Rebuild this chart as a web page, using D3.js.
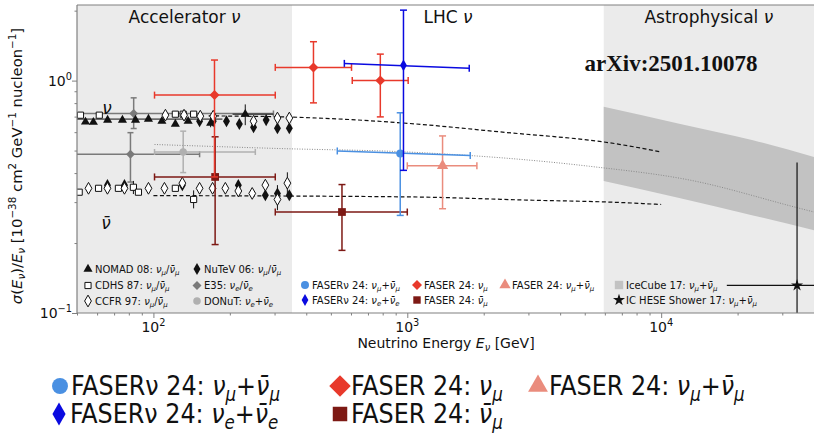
<!DOCTYPE html>
<html>
<head>
<meta charset="utf-8">
<script src="https://cdn.jsdelivr.net/npm/d3@7"></script>
<style>
  body { margin: 0; background: #fff; }
  text { font-family: "DejaVu Sans", sans-serif; fill: #111; }
  .cond text { font-family: "DejaVu Sans Condensed", "DejaVu Sans", sans-serif; font-stretch: condensed; }
</style>
</head>
<body>
<script>
// energies in GeV, sigma/E in 1e-38 cm^2 GeV^-1 nucleon^-1
const regionEdges = [50, 352, 5940, 40000];
const regionNames = ["Accelerator *ν*", "LHC *ν*", "Astrophysical *ν*"];
const regionFills = ["#ebebeb", "#ffffff", "#ebebeb"];

// theory curves
const nuLineE = [165, 343, 1000, 2300, 6840, 10000];
const nuLineV = [0.705, 0.697, 0.655, 0.602, 0.532, 0.493];
const nubarLineE = [100, 1000, 3000, 6840, 10000];
const nubarLineV = [0.320, 0.316, 0.306, 0.299, 0.293];
const avgLineE = [101, 317, 1000, 5210, 13000, 34300, 40000];
const avgLineV = [0.531, 0.510, 0.493, 0.428, 0.373, 0.284, 0.272];

// IceCube 17 band
const iceE = [5940, 11900, 23000, 40000];
const iceLo = [0.370, 0.312, 0.263, 0.227];
const iceHi = [0.771, 0.651, 0.554, 0.469];

// accelerator data
const nomad = [
  {e: 54, v: 0.664}, {e: 58, v: 0.662}, {e: 66, v: 0.676}, {e: 75.5, v: 0.676},
  {e: 85, v: 0.676}, {e: 95.6, v: 0.683, eLo: 30, eHi: 187}, {e: 108, v: 0.669},
  {e: 122, v: 0.650}, {e: 137, v: 0.669}, {e: 168, v: 0.656, vLo: 0.63, vHi: 0.69},
  {e: 230, v: 0.717, eLo: 205, eHi: 297, vLo: 0.643, vHi: 0.79}
];
const cdhsNu = [{e: 51.6, v: 0.710}, {e: 61.2, v: 0.710}, {e: 122, v: 0.717}, {e: 131, v: 0.717}, {e: 144, v: 0.717}];
const cdhsNubar = [
  {e: 51, v: 0.331}, {e: 60.8, v: 0.344}, {e: 72.8, v: 0.344}, {e: 83.4, v: 0.3475, vLo: 0.325, vHi: 0.37},
  {e: 87.3, v: 0.331}, {e: 122, v: 0.344}, {e: 144, v: 0.308, vLo: 0.282, vHi: 0.337}
];
const ccfrNu = [{e: 111.5, v: 0.710}, {e: 132, v: 0.710}, {e: 153, v: 0.703}, {e: 172, v: 0.703}, {e: 248, v: 0.669}, {e: 308, v: 0.690}, {e: 343, v: 0.690}];
const ccfrNubar = [
  {e: 55.5, v: 0.344}, {e: 65.9, v: 0.344}, {e: 76.9, v: 0.344}, {e: 95.6, v: 0.344}, {e: 110.5, v: 0.344},
  {e: 130, v: 0.362}, {e: 152, v: 0.344}, {e: 171, v: 0.344}, {e: 192, v: 0.344}, {e: 216, v: 0.335},
  {e: 245, v: 0.327}, {e: 276, v: 0.355}, {e: 308, v: 0.308, vLo: 0.277, vHi: 0.355},
  {e: 337, v: 0.362, vLo: 0.321, vHi: 0.403}
];
const nutevNu = [
  {e: 152, v: 0.669}, {e: 172, v: 0.669}, {e: 194, v: 0.669}, {e: 218, v: 0.650}, {e: 248, v: 0.630},
  {e: 278, v: 0.676}, {e: 308, v: 0.624, vLo: 0.60, vHi: 0.65}, {e: 343, v: 0.624, vLo: 0.60, vHi: 0.65}
];
const nutevNubar = [{e: 65.9, v: 0.355}, {e: 76.9, v: 0.355}, {e: 130, v: 0.355}, {e: 216, v: 0.355}, {e: 276, v: 0.321}, {e: 308, v: 0.327}, {e: 343, v: 0.321}];
const e35 = [
  {e: 83.6, v: 0.722, vLo: 0.622, vHi: 0.843, eLo: 20, eHi: 297},
  {e: 81.2, v: 0.482, vLo: 0.366, vHi: 0.597, eLo: 20, eHi: 152}
];
const donut = [{e: 131, v: 0.493, vLo: 0.402, vHi: 0.606, eLo: 101, eHi: 252}];

// LHC data (FASER)
const fasernuMu = [{e: 938, v: 0.486, vLo: 0.263, vHi: 0.727, eLo: 530, eHi: 1770, vL: 0.498, vR: 0.476}];
const fasernuE = [{e: 966, v: 1.163, vLo: 0.411, vHi: 2.01, eLo: 565, eHi: 1754, vL: 1.186, vR: 1.129}];
const faserNuMu = [
  {e: 174, v: 0.866, vLo: 0.385, vHi: 1.226, eLo: 101, eHi: 302},
  {e: 427, v: 1.14, vLo: 0.802, vHi: 1.47, eLo: 302, eHi: 603},
  {e: 783, v: 1.0, vLo: 0.698, vHi: 1.30, eLo: 607, eHi: 1008}
];
const faserSum = [{e: 1377, v: 0.430, vLo: 0.281, vHi: 0.578, eLo: 1000, eHi: 1880}];
const faserNubar = [
  {e: 175, v: 0.385, vLo: 0.197, vHi: 0.573, eLo: 101, eHi: 302},
  {e: 553, v: 0.272, vLo: 0.186, vHi: 0.357, eLo: 302, eHi: 1000}
];

// astrophysical
const icHese = [{e: 34300, v: 0.1314, vLo: 0.05, vHi: 0.444, eLo: 18140, eHi: 100000}];

const W = 814, H = 436;
const pL = 77, pR = 814, pT = 5, pB = 313;

const x = d3.scaleLog().domain([50, 40000]).range([pL, pR]);
const y = d3.scaleLog().domain([0.1, 2.115]).range([pB, pT]);

const svg = d3.select("body").append("svg").attr("width", W).attr("height", H);

// text with *italic*, _sub and ^{sup}
function rich(sel, str, fs) {
  let italic = false, cur = 0, buf = "";
  const chars = Array.from(str);
  const push = function(t, shift, small, it) {
    if (!t) return;
    const ts = sel.append("tspan").text(t).attr("dy", shift - cur);
    cur = shift;
    if (small) ts.attr("font-size", fs * 0.7);
    if (it) ts.attr("font-style", "italic");
  };
  for (let k = 0; k < chars.length; k++) {
    const c = chars[k];
    if (c === "*") { push(buf, 0, false, italic); buf = ""; italic = !italic; }
    else if (c === "_" || c === "^") {
      push(buf, 0, false, italic); buf = "";
      let content = "";
      if (chars[k + 1] === "{") { k += 2; while (chars[k] !== "}") content += chars[k++]; }
      else content = chars[++k];
      push(content, c === "_" ? fs * 0.22 : -fs * 0.4, true, c === "_");
    } else buf += c;
  }
  push(buf, 0, false, italic);
  sel.attr("font-size", fs);
}

svg.append("defs").append("clipPath").attr("id", "clip")
  .append("rect").attr("x", pL).attr("y", pT).attr("width", pR - pL).attr("height", pB - pT);
const plot = svg.append("g").attr("clip-path", "url(#clip)");

// regions
plot.selectAll("rect.region").data(regionNames).enter().append("rect")
  .attr("class", "region")
  .attr("x", (d, i) => x(regionEdges[i]))
  .attr("y", pT)
  .attr("width", (d, i) => x(regionEdges[i + 1]) - x(regionEdges[i]))
  .attr("height", pB - pT)
  .attr("fill", (d, i) => regionFills[i]);

// IceCube band
plot.append("path")
  .attr("d", d3.area().x((d, i) => x(iceE[i])).y0((d, i) => y(iceLo[i])).y1((d, i) => y(iceHi[i])).curve(d3.curveMonotoneX)(iceE))
  .attr("fill", "#c2c2c2");

// theory lines
const lineOf = (es, vs) => d3.line().x((d, i) => x(es[i])).y((d, i) => y(vs[i])).curve(d3.curveMonotoneX)(es);
plot.append("path").attr("d", lineOf(avgLineE, avgLineV)).attr("fill", "none")
  .attr("stroke", "#8a8a8a").attr("stroke-width", 1).attr("stroke-dasharray", "1,1.5");
plot.append("path").attr("d", lineOf(nuLineE, nuLineV)).attr("fill", "none")
  .attr("stroke", "#111").attr("stroke-width", 1.2).attr("stroke-dasharray", "4,2.5");
plot.append("path").attr("d", lineOf(nubarLineE, nubarLineV)).attr("fill", "none")
  .attr("stroke", "#111").attr("stroke-width", 1.2).attr("stroke-dasharray", "4,2.5");

function errorBars(g, data, color, width, cap) {
  data.forEach(function(d) {
    const px = x(d.e);
    if (d.vLo != null) {
      g.append("line").attr("x1", px).attr("x2", px).attr("y1", y(d.vLo)).attr("y2", y(d.vHi))
        .attr("stroke", color).attr("stroke-width", width);
      if (cap) [d.vLo, d.vHi].forEach(v => g.append("line")
        .attr("x1", px - cap).attr("x2", px + cap).attr("y1", y(v)).attr("y2", y(v))
        .attr("stroke", color).attr("stroke-width", width));
    }
    if (d.eLo != null) {
      const yl = y(d.vL != null ? d.vL : d.v), yr = y(d.vR != null ? d.vR : d.v);
      g.append("line").attr("x1", x(d.eLo)).attr("x2", x(d.eHi)).attr("y1", yl).attr("y2", yr)
        .attr("stroke", color).attr("stroke-width", width);
      if (cap) [[d.eLo, yl], [d.eHi, yr]].forEach(p => g.append("line")
        .attr("x1", x(p[0])).attr("x2", x(p[0])).attr("y1", p[1] - cap).attr("y2", p[1] + cap)
        .attr("stroke", color).attr("stroke-width", width));
    }
  });
}

function markers(g, data, type, size, fill, stroke, rot) {
  g.selectAll(null).data(data).enter().append("path")
    .attr("d", d3.symbol().type(type).size(size))
    .attr("transform", d => `translate(${x(d.e)},${y(d.v)}) rotate(${rot || 0})`)
    .attr("fill", fill).attr("stroke", stroke || "none").attr("stroke-width", 1);
}

// gray accelerator data
errorBars(plot, e35, "#7a7a7a", 1.5, 3);
markers(plot, e35, d3.symbolSquare, 40, "#7a7a7a", null, 45);
errorBars(plot, donut, "#b0b0b0", 1.5, 3);
markers(plot, donut, d3.symbolCircle, 45, "#b0b0b0");

// black accelerator data
[nomad, cdhsNu, cdhsNubar, ccfrNu, ccfrNubar, nutevNu, nutevNubar].forEach(s => errorBars(plot, s, "#111", 1, 0));
markers(plot, cdhsNu, d3.symbolSquare, 38, "#fff", "#111");
markers(plot, cdhsNubar, d3.symbolSquare, 38, "#fff", "#111");
markers(plot, nutevNu, d3.symbolDiamond, 42, "#111");
markers(plot, nutevNubar, d3.symbolDiamond, 42, "#111");
markers(plot, ccfrNu, d3.symbolDiamond, 40, "#fff", "#111");
markers(plot, ccfrNubar, d3.symbolDiamond, 40, "#fff", "#111");
markers(plot, nomad, d3.symbolTriangle, 36, "#111");

// FASER data
const cRed = "#e8392b", cDark = "#7d1914", cSalmon = "#ea8c7d", cLight = "#4a90e2", cBlue = "#0a0ae0";
errorBars(plot, faserNubar, cDark, 1.5, 3.5);
markers(plot, faserNubar, d3.symbolSquare, 60, cDark);
errorBars(plot, faserNuMu, cRed, 1.5, 3.5);
markers(plot, faserNuMu, d3.symbolSquare, 50, cRed, null, 45);
errorBars(plot, faserSum, cSalmon, 1.5, 3.5);
markers(plot, faserSum, d3.symbolTriangle, 55, cSalmon);
errorBars(plot, fasernuMu, cLight, 1.5, 3.5);
markers(plot, fasernuMu, d3.symbolCircle, 50, cLight);
errorBars(plot, fasernuE, cBlue, 1.5, 3.5);
markers(plot, fasernuE, d3.symbolDiamond, 40, cBlue);

// IC HESE
errorBars(plot, icHese, "#111", 1.2, 0);
markers(plot, icHese, d3.symbolStar, 45, "#111");

// region titles
plot.selectAll("text.region").data(regionNames).enter().append("text")
  .attr("class", "region")
  .attr("x", (d, i) => (x(regionEdges[i]) + x(regionEdges[i + 1])) / 2)
  .attr("y", 23).attr("text-anchor", "middle")
  .each(function(d) { rich(d3.select(this), d, 17); });

// nu / nubar annotations
plot.append("text").attr("x", x(65.7)).attr("y", y(0.771) + 7).attr("text-anchor", "middle")
  .attr("font-size", 17).attr("font-style", "italic").text("ν");
plot.append("text").attr("x", x(65)).attr("y", y(0.246) + 7).attr("text-anchor", "middle")
  .attr("font-size", 17).attr("font-style", "italic").text("ν̄");

svg.append("text").attr("x", 671).attr("y", 71).attr("text-anchor", "middle")
  .style("font-family", "'Liberation Serif', serif").attr("font-weight", "bold")
  .attr("font-size", 23).text("arXiv:2501.10078");

// in-plot legend
const legInside = [
  {label: "NOMAD 08: *ν*_μ/*ν̄*_μ", lx: 88, ly: 269, type: d3.symbolTriangle, size: 36, fill: "#111"},
  {label: "CDHS 87: *ν*_μ/*ν̄*_μ", lx: 88, ly: 285.5, type: d3.symbolSquare, size: 38, fill: "#fff", stroke: "#111"},
  {label: "CCFR 97: *ν*_μ/*ν̄*_μ", lx: 88, ly: 301, type: d3.symbolDiamond, size: 40, fill: "#fff", stroke: "#111"},
  {label: "NuTeV 06: *ν*_μ/*ν̄*_μ", lx: 197, ly: 269, type: d3.symbolDiamond, size: 42, fill: "#111"},
  {label: "E35: *ν*_e/*ν̄*_e", lx: 197, ly: 285.5, type: d3.symbolSquare, size: 40, fill: "#7a7a7a", rot: 45},
  {label: "DONuT: *ν*_e+*ν̄*_e", lx: 197, ly: 301, type: d3.symbolCircle, size: 45, fill: "#b0b0b0"},
  {label: "FASERν 24: *ν*_μ+*ν̄*_μ", lx: 305, ly: 285, type: d3.symbolCircle, size: 50, fill: cLight},
  {label: "FASER 24: *ν*_μ", lx: 417, ly: 285, type: d3.symbolSquare, size: 50, fill: cRed, rot: 45},
  {label: "FASER 24: *ν*_μ+*ν̄*_μ", lx: 505, ly: 285, type: d3.symbolTriangle, size: 55, fill: cSalmon},
  {label: "FASERν 24: *ν*_e+*ν̄*_e", lx: 305, ly: 300, type: d3.symbolDiamond, size: 40, fill: cBlue},
  {label: "FASER 24: *ν̄*_μ", lx: 417, ly: 300, type: d3.symbolSquare, size: 55, fill: cDark},
  {label: "IceCube 17: *ν*_μ+*ν̄*_μ", lx: 619, ly: 285, type: d3.symbolSquare, size: 70, fill: "#c2c2c2"},
  {label: "IC HESE Shower 17: *ν*_μ+*ν̄*_μ", lx: 619, ly: 300, type: d3.symbolStar, size: 45, fill: "#111"}
];
const legG = svg.append("g");
legInside.forEach(function(d) {
  legG.append("path").attr("d", d3.symbol().type(d.type).size(d.size)())
    .attr("transform", `translate(${d.lx},${d.ly}) rotate(${d.rot || 0})`)
    .attr("fill", d.fill).attr("stroke", d.stroke || "none");
  const t = legG.append("text").attr("x", d.lx + 7).attr("y", d.ly + 3.5);
  rich(t, d.label, 10);
});

// frame and axes
svg.append("line").attr("x1", pL).attr("x2", pR).attr("y1", pT).attr("y2", pT).attr("stroke", "#808080").attr("stroke-width", 1.2);
svg.append("line").attr("x1", pL).attr("x2", pL).attr("y1", pT).attr("y2", pB).attr("stroke", "#808080").attr("stroke-width", 1.2);
svg.append("line").attr("x1", pL).attr("x2", pR).attr("y1", pB).attr("y2", pB).attr("stroke", "#808080").attr("stroke-width", 1.2);

const isMajor = t => Math.abs(Math.log10(t) - Math.round(Math.log10(t))) < 1e-9;
const xMajor = x.ticks().filter(isMajor);
const xMinor = x.ticks().filter(t => !isMajor(t));
const yMajor = y.ticks().filter(isMajor);
const yMinor = y.ticks().filter(t => !isMajor(t));

const styleAxis = g => { g.select(".domain").remove(); g.selectAll("line").attr("stroke", "#808080"); };
svg.append("g").attr("transform", `translate(0,${pB})`)
  .call(d3.axisBottom(x).tickValues(xMajor).tickSize(5).tickFormat("")).call(styleAxis);
svg.append("g").attr("transform", `translate(0,${pB})`)
  .call(d3.axisBottom(x).tickValues(xMinor).tickSize(2.5).tickFormat("")).call(styleAxis);
svg.append("g").attr("transform", `translate(${pL},0)`)
  .call(d3.axisLeft(y).tickValues(yMajor).tickSize(5).tickFormat("")).call(styleAxis);
svg.append("g").attr("transform", `translate(${pL},0)`)
  .call(d3.axisLeft(y).tickValues(yMinor).tickSize(2.5).tickFormat("")).call(styleAxis);

xMajor.forEach(function(t) {
  const tx = svg.append("text").attr("x", x(t)).attr("y", pB + 19).attr("text-anchor", "middle");
  rich(tx, "10^{" + Math.round(Math.log10(t)) + "}", 14);
});
yMajor.forEach(function(t) {
  const e = Math.round(Math.log10(t));
  const ty = svg.append("text").attr("x", pL - 5).attr("y", y(t) + 5).attr("text-anchor", "end");
  rich(ty, "10^{" + (e < 0 ? "−" + (-e) : e) + "}", 14);
});

const xl = svg.append("text").attr("x", 446).attr("y", 348).attr("text-anchor", "middle");
rich(xl, "Neutrino Energy *E*_ν [GeV]", 14);
const yl = svg.append("text").attr("transform", "translate(22,166) rotate(-90)").attr("text-anchor", "middle");
rich(yl, "*σ*(*E*_ν)/*E*_ν [10^{−38} cm^{2} GeV^{−1} nucleon^{−1}]", 14.8);

// bottom legend
const legBottom = [
  {label: "FASERν 24: *ν*_μ+*ν̄*_μ", lx: 60, ly: 386, type: d3.symbolCircle, size: 200, fill: cLight},
  {label: "FASER 24: *ν*_μ", lx: 340, ly: 386, type: d3.symbolSquare, size: 230, fill: cRed, rot: 45},
  {label: "FASER 24: *ν*_μ+*ν̄*_μ", lx: 538, ly: 386, type: d3.symbolTriangle, size: 170, fill: cSalmon},
  {label: "FASERν 24: *ν*_e+*ν̄*_e", lx: 59, ly: 414, type: d3.symbolDiamond, size: 150, fill: cBlue},
  {label: "FASER 24: *ν̄*_μ", lx: 340, ly: 414, type: d3.symbolSquare, size: 210, fill: cDark}
];
const legB = svg.append("g").attr("class", "cond");
legBottom.forEach(function(d) {
  legB.append("path").attr("d", d3.symbol().type(d.type).size(d.size)())
    .attr("transform", `translate(${d.lx},${d.ly}) rotate(${d.rot || 0})`)
    .attr("fill", d.fill);
  const t = legB.append("text").attr("x", d.lx + 11).attr("y", d.ly + 9);
  rich(t, d.label, 26.5);
});
</script>
</body>
</html>
